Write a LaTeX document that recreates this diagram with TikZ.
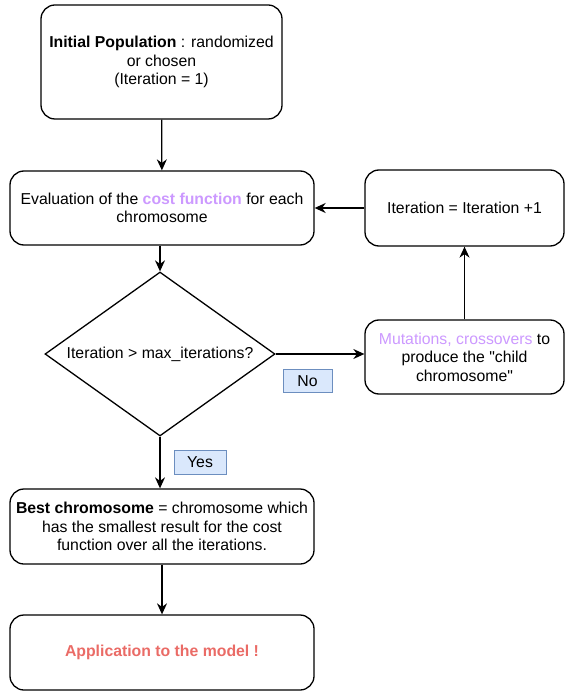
\documentclass[tikz,border=0pt]{standalone}
\usepackage{fontspec}
\setmainfont{Liberation Sans}
\usetikzlibrary{arrows.meta,shapes.geometric}
\definecolor{lilac}{HTML}{CC99FF}
\definecolor{salmon}{HTML}{EA6B66}
\definecolor{labelfill}{HTML}{DAE8FC}
\definecolor{labeldraw}{HTML}{6C8EBF}
\begin{document}
\begin{tikzpicture}[x=1pt,y=-1pt,
    font=\fontsize{15.8}{18.5}\selectfont,
    stepbox/.style={draw, line width=1.3pt, rounded corners=14pt, align=center, inner sep=0pt},
    decision/.style={draw, line width=1.3pt, diamond, aspect=1.4, align=center, inner sep=0pt},
    answer/.style={draw=labeldraw, fill=labelfill, line width=1pt, inner sep=0pt},
    flow/.style={-{Stealth[length=11pt,width=10pt]}, line width=1.3pt}]
    \useasboundingbox (0,0) rectangle (565,692);

    % Start of the loop
    \node[stepbox, minimum width=241pt, minimum height=114pt] (init) at (161.5,62)
        {\textbf{Initial Population} : randomized\\or chosen\\(Iteration = 1)};
    \node[stepbox, minimum width=304pt, minimum height=74pt] (eval) at (162,208)
        {Evaluation of the \textcolor{lilac}{\textbf{cost function}} for each\\chromosome};

    % Test on the number of iterations
    \node[decision, minimum width=230pt, minimum height=164pt] (test) at (160,354)
        {Iteration > max\_iterations?};

    % Right branch
    \node[stepbox, minimum width=199pt, minimum height=74pt] (mut) at (464.5,357)
        {\textcolor{lilac}{Mutations, crossovers} to\\produce the \textquotedbl child\\chromosome\textquotedbl};
    \node[stepbox, minimum width=199pt, minimum height=76pt] (incr) at (464.5,208)
        {Iteration = Iteration +1};

    % End of the algorithm
    \node[stepbox, minimum width=304pt, minimum height=75pt] (best) at (162,526.5)
        {\textbf{Best chromosome} = chromosome which\\has the smallest result for the cost\\function over all the iterations.};
    \node[stepbox, minimum width=304pt, minimum height=75pt] (appl) at (162,652.5)
        {\textcolor{salmon}{\textbf{Application to the model !}}};

    % Answers
    \node[answer, minimum width=49pt, minimum height=23pt] (no) at (307.5,381) {No};
    \node[answer, minimum width=52pt, minimum height=24pt] (yes) at (200,462) {Yes};

    % Connectors
    \draw[flow] (init) -- (eval);
    \draw[flow] (eval.south -| test.north) -- (test.north);
    \draw[flow] (test.south) -- (test.south |- best.north);
    \draw[flow] (best) -- (appl);
    \draw[flow] (test.east) -- (mut.west |- test.east);
    \draw[flow] (mut.north -| incr) -- (incr);
    \draw[flow] (incr) -- (eval);
  \end{tikzpicture}
\end{document}
